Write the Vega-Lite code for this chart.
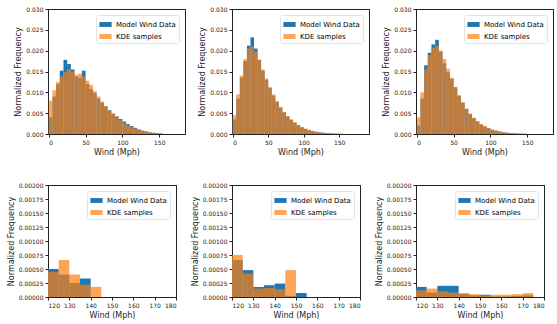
{
"$schema": "https://vega.github.io/schema/vega-lite/v6.json",
"padding": {"left": 6, "top": 5, "right": 0, "bottom": 2},
"config": {
  "font": "DejaVu Sans",
  "view": {"stroke": "#222", "strokeWidth": 1},
  "axis": {"grid": false, "labelFontSize": 6, "titleFontSize": 8, "titleFontWeight": "normal", "tickSize": 3, "tickColor": "#222", "domain": true, "domainColor": "#222", "domainWidth": 1, "labelColor": "#222", "titleColor": "#222", "titlePadding": 3, "labelPadding": 2},
  "legend": {"orient": "top-right", "labelFontSize": 7, "symbolType": "M-1,-0.4H1V0.4H-1Z", "symbolSize": 150, "symbolStrokeWidth": 0, "rowPadding": 2, "offset": 6, "padding": 3, "strokeColor": "#e4e4e4", "fillColor": "rgba(255,255,255,0.8)", "cornerRadius": 2, "labelOffset": 4}
},
"datasets": {
  "p1": [
    {"s":"Model Wind Data","x0":0,"x1":5,"f":0.004},{"s":"Model Wind Data","x0":5,"x1":10,"f":0.009},{"s":"Model Wind Data","x0":10,"x1":15,"f":0.012},{"s":"Model Wind Data","x0":15,"x1":20,"f":0.0152},{"s":"Model Wind Data","x0":20,"x1":25,"f":0.0178},{"s":"Model Wind Data","x0":25,"x1":30,"f":0.0168},{"s":"Model Wind Data","x0":30,"x1":35,"f":0.0155},{"s":"Model Wind Data","x0":35,"x1":40,"f":0.0138},{"s":"Model Wind Data","x0":40,"x1":45,"f":0.0135},{"s":"Model Wind Data","x0":45,"x1":50,"f":0.0152},{"s":"Model Wind Data","x0":50,"x1":55,"f":0.012},{"s":"Model Wind Data","x0":55,"x1":60,"f":0.0108},{"s":"Model Wind Data","x0":60,"x1":65,"f":0.0098},{"s":"Model Wind Data","x0":65,"x1":70,"f":0.0085},{"s":"Model Wind Data","x0":70,"x1":75,"f":0.0075},{"s":"Model Wind Data","x0":75,"x1":80,"f":0.0066},{"s":"Model Wind Data","x0":80,"x1":85,"f":0.0057},{"s":"Model Wind Data","x0":85,"x1":90,"f":0.0049},{"s":"Model Wind Data","x0":90,"x1":95,"f":0.0042},{"s":"Model Wind Data","x0":95,"x1":100,"f":0.0036},{"s":"Model Wind Data","x0":100,"x1":105,"f":0.003},{"s":"Model Wind Data","x0":105,"x1":110,"f":0.0024},{"s":"Model Wind Data","x0":110,"x1":115,"f":0.0019},{"s":"Model Wind Data","x0":115,"x1":120,"f":0.0015},{"s":"Model Wind Data","x0":120,"x1":125,"f":0.0011},{"s":"Model Wind Data","x0":125,"x1":130,"f":0.0008},{"s":"Model Wind Data","x0":130,"x1":135,"f":0.0006},{"s":"Model Wind Data","x0":135,"x1":140,"f":0.0004},{"s":"Model Wind Data","x0":140,"x1":145,"f":0.0003},{"s":"Model Wind Data","x0":145,"x1":150,"f":0.0002},{"s":"Model Wind Data","x0":150,"x1":155,"f":0.0001},
    {"s":"KDE samples","x0":0,"x1":5,"f":0.008},{"s":"KDE samples","x0":5,"x1":10,"f":0.0105},{"s":"KDE samples","x0":10,"x1":15,"f":0.0125},{"s":"KDE samples","x0":15,"x1":20,"f":0.0138},{"s":"KDE samples","x0":20,"x1":25,"f":0.0148},{"s":"KDE samples","x0":25,"x1":30,"f":0.0155},{"s":"KDE samples","x0":30,"x1":35,"f":0.015},{"s":"KDE samples","x0":35,"x1":40,"f":0.0142},{"s":"KDE samples","x0":40,"x1":45,"f":0.0145},{"s":"KDE samples","x0":45,"x1":50,"f":0.0138},{"s":"KDE samples","x0":50,"x1":55,"f":0.0128},{"s":"KDE samples","x0":55,"x1":60,"f":0.0118},{"s":"KDE samples","x0":60,"x1":65,"f":0.0103},{"s":"KDE samples","x0":65,"x1":70,"f":0.009},{"s":"KDE samples","x0":70,"x1":75,"f":0.0078},{"s":"KDE samples","x0":75,"x1":80,"f":0.0067},{"s":"KDE samples","x0":80,"x1":85,"f":0.0056},{"s":"KDE samples","x0":85,"x1":90,"f":0.0048},{"s":"KDE samples","x0":90,"x1":95,"f":0.004},{"s":"KDE samples","x0":95,"x1":100,"f":0.0033},{"s":"KDE samples","x0":100,"x1":105,"f":0.0027},{"s":"KDE samples","x0":105,"x1":110,"f":0.0022},{"s":"KDE samples","x0":110,"x1":115,"f":0.0017},{"s":"KDE samples","x0":115,"x1":120,"f":0.0013},{"s":"KDE samples","x0":120,"x1":125,"f":0.001},{"s":"KDE samples","x0":125,"x1":130,"f":0.0008},{"s":"KDE samples","x0":130,"x1":135,"f":0.0006},{"s":"KDE samples","x0":135,"x1":140,"f":0.0004},{"s":"KDE samples","x0":140,"x1":145,"f":0.0003},{"s":"KDE samples","x0":145,"x1":150,"f":0.0002},{"s":"KDE samples","x0":150,"x1":155,"f":0.0001}
  ],
  "p2": [
    {"s":"Model Wind Data","x0":0,"x1":5,"f":0.0035},{"s":"Model Wind Data","x0":5,"x1":10,"f":0.0085},{"s":"Model Wind Data","x0":10,"x1":15,"f":0.0135},{"s":"Model Wind Data","x0":15,"x1":20,"f":0.0175},{"s":"Model Wind Data","x0":20,"x1":25,"f":0.0212},{"s":"Model Wind Data","x0":25,"x1":30,"f":0.0232},{"s":"Model Wind Data","x0":30,"x1":35,"f":0.0205},{"s":"Model Wind Data","x0":35,"x1":40,"f":0.0178},{"s":"Model Wind Data","x0":40,"x1":45,"f":0.0152},{"s":"Model Wind Data","x0":45,"x1":50,"f":0.013},{"s":"Model Wind Data","x0":50,"x1":55,"f":0.011},{"s":"Model Wind Data","x0":55,"x1":60,"f":0.0092},{"s":"Model Wind Data","x0":60,"x1":65,"f":0.0077},{"s":"Model Wind Data","x0":65,"x1":70,"f":0.0063},{"s":"Model Wind Data","x0":70,"x1":75,"f":0.0052},{"s":"Model Wind Data","x0":75,"x1":80,"f":0.0042},{"s":"Model Wind Data","x0":80,"x1":85,"f":0.0034},{"s":"Model Wind Data","x0":85,"x1":90,"f":0.0027},{"s":"Model Wind Data","x0":90,"x1":95,"f":0.0021},{"s":"Model Wind Data","x0":95,"x1":100,"f":0.0016},{"s":"Model Wind Data","x0":100,"x1":105,"f":0.0012},{"s":"Model Wind Data","x0":105,"x1":110,"f":0.0009},{"s":"Model Wind Data","x0":110,"x1":115,"f":0.0007},{"s":"Model Wind Data","x0":115,"x1":120,"f":0.0005},{"s":"Model Wind Data","x0":120,"x1":125,"f":0.0004},{"s":"Model Wind Data","x0":125,"x1":130,"f":0.0003},{"s":"Model Wind Data","x0":130,"x1":135,"f":0.0002},{"s":"Model Wind Data","x0":135,"x1":140,"f":0.00015},{"s":"Model Wind Data","x0":140,"x1":145,"f":0.0001},{"s":"Model Wind Data","x0":145,"x1":150,"f":0.00008},{"s":"Model Wind Data","x0":150,"x1":155,"f":0.00005},
    {"s":"KDE samples","x0":0,"x1":5,"f":0.0045},{"s":"KDE samples","x0":5,"x1":10,"f":0.0095},{"s":"KDE samples","x0":10,"x1":15,"f":0.014},{"s":"KDE samples","x0":15,"x1":20,"f":0.018},{"s":"KDE samples","x0":20,"x1":25,"f":0.0205},{"s":"KDE samples","x0":25,"x1":30,"f":0.021},{"s":"KDE samples","x0":30,"x1":35,"f":0.0198},{"s":"KDE samples","x0":35,"x1":40,"f":0.0178},{"s":"KDE samples","x0":40,"x1":45,"f":0.0155},{"s":"KDE samples","x0":45,"x1":50,"f":0.0133},{"s":"KDE samples","x0":50,"x1":55,"f":0.0113},{"s":"KDE samples","x0":55,"x1":60,"f":0.0095},{"s":"KDE samples","x0":60,"x1":65,"f":0.0079},{"s":"KDE samples","x0":65,"x1":70,"f":0.0065},{"s":"KDE samples","x0":70,"x1":75,"f":0.0053},{"s":"KDE samples","x0":75,"x1":80,"f":0.0043},{"s":"KDE samples","x0":80,"x1":85,"f":0.0035},{"s":"KDE samples","x0":85,"x1":90,"f":0.0028},{"s":"KDE samples","x0":90,"x1":95,"f":0.0022},{"s":"KDE samples","x0":95,"x1":100,"f":0.0017},{"s":"KDE samples","x0":100,"x1":105,"f":0.0013},{"s":"KDE samples","x0":105,"x1":110,"f":0.001},{"s":"KDE samples","x0":110,"x1":115,"f":0.0008},{"s":"KDE samples","x0":115,"x1":120,"f":0.0006},{"s":"KDE samples","x0":120,"x1":125,"f":0.0004},{"s":"KDE samples","x0":125,"x1":130,"f":0.0003},{"s":"KDE samples","x0":130,"x1":135,"f":0.0002},{"s":"KDE samples","x0":135,"x1":140,"f":0.00015},{"s":"KDE samples","x0":140,"x1":145,"f":0.0001},{"s":"KDE samples","x0":145,"x1":150,"f":0.00007},{"s":"KDE samples","x0":150,"x1":155,"f":0.00005}
  ],
  "p3": [
    {"s":"Model Wind Data","x0":0,"x1":5,"f":0.002},{"s":"Model Wind Data","x0":5,"x1":10,"f":0.0085},{"s":"Model Wind Data","x0":10,"x1":15,"f":0.0165},{"s":"Model Wind Data","x0":15,"x1":20,"f":0.0195},{"s":"Model Wind Data","x0":20,"x1":25,"f":0.0215},{"s":"Model Wind Data","x0":25,"x1":30,"f":0.0226},{"s":"Model Wind Data","x0":30,"x1":35,"f":0.0198},{"s":"Model Wind Data","x0":35,"x1":40,"f":0.017},{"s":"Model Wind Data","x0":40,"x1":45,"f":0.0148},{"s":"Model Wind Data","x0":45,"x1":50,"f":0.0132},{"s":"Model Wind Data","x0":50,"x1":55,"f":0.0112},{"s":"Model Wind Data","x0":55,"x1":60,"f":0.0092},{"s":"Model Wind Data","x0":60,"x1":65,"f":0.0075},{"s":"Model Wind Data","x0":65,"x1":70,"f":0.006},{"s":"Model Wind Data","x0":70,"x1":75,"f":0.0048},{"s":"Model Wind Data","x0":75,"x1":80,"f":0.0038},{"s":"Model Wind Data","x0":80,"x1":85,"f":0.003},{"s":"Model Wind Data","x0":85,"x1":90,"f":0.0023},{"s":"Model Wind Data","x0":90,"x1":95,"f":0.0018},{"s":"Model Wind Data","x0":95,"x1":100,"f":0.0014},{"s":"Model Wind Data","x0":100,"x1":105,"f":0.001},{"s":"Model Wind Data","x0":105,"x1":110,"f":0.0008},{"s":"Model Wind Data","x0":110,"x1":115,"f":0.0006},{"s":"Model Wind Data","x0":115,"x1":120,"f":0.0004},{"s":"Model Wind Data","x0":120,"x1":125,"f":0.0003},{"s":"Model Wind Data","x0":125,"x1":130,"f":0.0002},{"s":"Model Wind Data","x0":130,"x1":135,"f":0.00015},{"s":"Model Wind Data","x0":135,"x1":140,"f":0.0001},{"s":"Model Wind Data","x0":140,"x1":145,"f":0.00007},{"s":"Model Wind Data","x0":145,"x1":150,"f":0.00005},
    {"s":"KDE samples","x0":0,"x1":5,"f":0.004},{"s":"KDE samples","x0":5,"x1":10,"f":0.01},{"s":"KDE samples","x0":10,"x1":15,"f":0.0155},{"s":"KDE samples","x0":15,"x1":20,"f":0.019},{"s":"KDE samples","x0":20,"x1":25,"f":0.0207},{"s":"KDE samples","x0":25,"x1":30,"f":0.0212},{"s":"KDE samples","x0":30,"x1":35,"f":0.02},{"s":"KDE samples","x0":35,"x1":40,"f":0.018},{"s":"KDE samples","x0":40,"x1":45,"f":0.0157},{"s":"KDE samples","x0":45,"x1":50,"f":0.0135},{"s":"KDE samples","x0":50,"x1":55,"f":0.0113},{"s":"KDE samples","x0":55,"x1":60,"f":0.0093},{"s":"KDE samples","x0":60,"x1":65,"f":0.0076},{"s":"KDE samples","x0":65,"x1":70,"f":0.0061},{"s":"KDE samples","x0":70,"x1":75,"f":0.0049},{"s":"KDE samples","x0":75,"x1":80,"f":0.0039},{"s":"KDE samples","x0":80,"x1":85,"f":0.0031},{"s":"KDE samples","x0":85,"x1":90,"f":0.0024},{"s":"KDE samples","x0":90,"x1":95,"f":0.0019},{"s":"KDE samples","x0":95,"x1":100,"f":0.0014},{"s":"KDE samples","x0":100,"x1":105,"f":0.0011},{"s":"KDE samples","x0":105,"x1":110,"f":0.0008},{"s":"KDE samples","x0":110,"x1":115,"f":0.0006},{"s":"KDE samples","x0":115,"x1":120,"f":0.0004},{"s":"KDE samples","x0":120,"x1":125,"f":0.0003},{"s":"KDE samples","x0":125,"x1":130,"f":0.0002},{"s":"KDE samples","x0":130,"x1":135,"f":0.00015},{"s":"KDE samples","x0":135,"x1":140,"f":0.0001},{"s":"KDE samples","x0":140,"x1":145,"f":0.00007},{"s":"KDE samples","x0":145,"x1":150,"f":0.00005}
  ],
  "p4": [
    {"s":"Model Wind Data","x0":120,"x1":125,"f":0.0005},{"s":"Model Wind Data","x0":125,"x1":130,"f":0.0004},{"s":"Model Wind Data","x0":130,"x1":135,"f":0.00025},{"s":"Model Wind Data","x0":135,"x1":140,"f":0.00033},
    {"s":"KDE samples","x0":120,"x1":125,"f":0.00045},{"s":"KDE samples","x0":125,"x1":130,"f":0.00066},{"s":"KDE samples","x0":130,"x1":135,"f":0.0004},{"s":"KDE samples","x0":135,"x1":140,"f":0.00022},{"s":"KDE samples","x0":140,"x1":145,"f":0.00018}
  ],
  "p5": [
    {"s":"Model Wind Data","x0":120,"x1":125,"f":0.00066},{"s":"Model Wind Data","x0":125,"x1":130,"f":0.00048},{"s":"Model Wind Data","x0":130,"x1":135,"f":0.00018},{"s":"Model Wind Data","x0":135,"x1":140,"f":0.00021},{"s":"Model Wind Data","x0":140,"x1":145,"f":0.00024},{"s":"Model Wind Data","x0":145,"x1":150,"f":0.00002},{"s":"Model Wind Data","x0":150,"x1":155,"f":0.00007},
    {"s":"KDE samples","x0":120,"x1":125,"f":0.00075},{"s":"KDE samples","x0":125,"x1":130,"f":0.00042},{"s":"KDE samples","x0":130,"x1":135,"f":0.00015},{"s":"KDE samples","x0":135,"x1":140,"f":0.00016},{"s":"KDE samples","x0":140,"x1":145,"f":0.00014},{"s":"KDE samples","x0":145,"x1":150,"f":0.00048}
  ],
  "p6": [
    {"s":"Model Wind Data","x0":120,"x1":125,"f":0.00018},{"s":"Model Wind Data","x0":125,"x1":130,"f":0.00008},{"s":"Model Wind Data","x0":130,"x1":135,"f":0.0002},{"s":"Model Wind Data","x0":135,"x1":140,"f":0.0002},{"s":"Model Wind Data","x0":140,"x1":145,"f":0.00006},{"s":"Model Wind Data","x0":145,"x1":150,"f":0.00003},{"s":"Model Wind Data","x0":150,"x1":155,"f":0.00004},{"s":"Model Wind Data","x0":155,"x1":160,"f":0.00001},{"s":"Model Wind Data","x0":160,"x1":165,"f":0.00001},{"s":"Model Wind Data","x0":165,"x1":170,"f":0.00002},{"s":"Model Wind Data","x0":170,"x1":175,"f":0.00003},
    {"s":"KDE samples","x0":120,"x1":125,"f":0.00012},{"s":"KDE samples","x0":125,"x1":130,"f":0.00015},{"s":"KDE samples","x0":130,"x1":135,"f":0.0001},{"s":"KDE samples","x0":135,"x1":140,"f":0.00008},{"s":"KDE samples","x0":140,"x1":145,"f":0.00006},{"s":"KDE samples","x0":145,"x1":150,"f":0.00005},{"s":"KDE samples","x0":150,"x1":155,"f":0.00003},{"s":"KDE samples","x0":155,"x1":160,"f":0.00004},{"s":"KDE samples","x0":160,"x1":165,"f":0.00004},{"s":"KDE samples","x0":165,"x1":170,"f":0.00005},{"s":"KDE samples","x0":170,"x1":175,"f":0.00007}
  ]
},
"columns": 3,
"spacing": {"row": 24, "column": 4},
"resolve": {"scale": {"color": "independent", "opacity": "independent", "x": "independent", "y": "independent"}},
"concat": [
  {"width": 137, "height": 125, "data": {"name": "p1"},
   "resolve": {"axis": {"x": "independent", "y": "independent"}},
   "layer": [
    {"mark": "rect",
     "encoding": {
       "x": {"field": "x0", "type": "quantitative", "scale": {"domain": [-1, 185], "nice": false, "zero": false}, "axis": {"values": [0, 50, 100, 150], "title": "Wind (Mph)"}},
       "x2": {"field": "x1"},
       "y": {"field": "f", "type": "quantitative", "scale": {"domain": [0, 0.03], "nice": false}, "axis": {"values": [0, 0.005, 0.01, 0.015, 0.02, 0.025, 0.03], "format": ".3f", "title": "Normalized Frequency"}},
       "y2": {"datum": 0},
       "color": {"field": "s", "type": "nominal", "scale": {"domain": ["Model Wind Data", "KDE samples"], "range": ["#1f77b4", "#ff7f0e"]}, "legend": {"title": null}},
       "opacity": {"field": "s", "type": "nominal", "scale": {"domain": ["Model Wind Data", "KDE samples"], "range": [1, 0.7]}, "legend": {"title": null}}
     }},
    {"mark": {"type": "rect", "opacity": 0},
     "encoding": {
       "x": {"field": "x0", "type": "quantitative", "scale": {"domain": [-1, 185], "nice": false, "zero": false}, "axis": {"orient": "top", "labels": false, "ticks": false, "title": null, "domain": true, "domainColor": "#222", "domainWidth": 1}},
       "x2": {"field": "x1"},
       "y": {"field": "f", "type": "quantitative", "scale": {"domain": [0, 0.03], "nice": false}, "axis": {"orient": "right", "labels": false, "ticks": false, "title": null, "domain": true, "domainColor": "#222", "domainWidth": 1}},
       "y2": {"datum": 0}
     }}
   ]},
  {"width": 137, "height": 125, "data": {"name": "p2"},
   "resolve": {"axis": {"x": "independent", "y": "independent"}},
   "layer": [
    {"mark": "rect",
     "encoding": {
       "x": {"field": "x0", "type": "quantitative", "scale": {"domain": [-1, 192], "nice": false, "zero": false}, "axis": {"values": [0, 50, 100, 150], "title": "Wind (Mph)"}},
       "x2": {"field": "x1"},
       "y": {"field": "f", "type": "quantitative", "scale": {"domain": [0, 0.03], "nice": false}, "axis": {"values": [0, 0.005, 0.01, 0.015, 0.02, 0.025, 0.03], "format": ".3f", "title": "Normalized Frequency"}},
       "y2": {"datum": 0},
       "color": {"field": "s", "type": "nominal", "scale": {"domain": ["Model Wind Data", "KDE samples"], "range": ["#1f77b4", "#ff7f0e"]}, "legend": {"title": null}},
       "opacity": {"field": "s", "type": "nominal", "scale": {"domain": ["Model Wind Data", "KDE samples"], "range": [1, 0.7]}, "legend": {"title": null}}
     }},
    {"mark": {"type": "rect", "opacity": 0},
     "encoding": {
       "x": {"field": "x0", "type": "quantitative", "scale": {"domain": [-1, 192], "nice": false, "zero": false}, "axis": {"orient": "top", "labels": false, "ticks": false, "title": null, "domain": true, "domainColor": "#222", "domainWidth": 1}},
       "x2": {"field": "x1"},
       "y": {"field": "f", "type": "quantitative", "scale": {"domain": [0, 0.03], "nice": false}, "axis": {"orient": "right", "labels": false, "ticks": false, "title": null, "domain": true, "domainColor": "#222", "domainWidth": 1}},
       "y2": {"datum": 0}
     }}
   ]},
  {"width": 137, "height": 125, "data": {"name": "p3"},
   "resolve": {"axis": {"x": "independent", "y": "independent"}},
   "layer": [
    {"mark": "rect",
     "encoding": {
       "x": {"field": "x0", "type": "quantitative", "scale": {"domain": [-1, 185], "nice": false, "zero": false}, "axis": {"values": [0, 50, 100, 150], "title": "Wind (Mph)"}},
       "x2": {"field": "x1"},
       "y": {"field": "f", "type": "quantitative", "scale": {"domain": [0, 0.03], "nice": false}, "axis": {"values": [0, 0.005, 0.01, 0.015, 0.02, 0.025, 0.03], "format": ".3f", "title": "Normalized Frequency"}},
       "y2": {"datum": 0},
       "color": {"field": "s", "type": "nominal", "scale": {"domain": ["Model Wind Data", "KDE samples"], "range": ["#1f77b4", "#ff7f0e"]}, "legend": {"title": null}},
       "opacity": {"field": "s", "type": "nominal", "scale": {"domain": ["Model Wind Data", "KDE samples"], "range": [1, 0.7]}, "legend": {"title": null}}
     }},
    {"mark": {"type": "rect", "opacity": 0},
     "encoding": {
       "x": {"field": "x0", "type": "quantitative", "scale": {"domain": [-1, 185], "nice": false, "zero": false}, "axis": {"orient": "top", "labels": false, "ticks": false, "title": null, "domain": true, "domainColor": "#222", "domainWidth": 1}},
       "x2": {"field": "x1"},
       "y": {"field": "f", "type": "quantitative", "scale": {"domain": [0, 0.03], "nice": false}, "axis": {"orient": "right", "labels": false, "ticks": false, "title": null, "domain": true, "domainColor": "#222", "domainWidth": 1}},
       "y2": {"datum": 0}
     }}
   ]},
  {"width": 128, "height": 112, "data": {"name": "p4"},
   "resolve": {"axis": {"x": "independent", "y": "independent"}},
   "layer": [
    {"mark": "rect",
     "encoding": {
       "x": {"field": "x0", "type": "quantitative", "scale": {"domain": [120, 180], "nice": false, "zero": false}, "axis": {"values": [120, 130, 140, 150, 160, 170, 180], "title": "Wind (Mph)"}},
       "x2": {"field": "x1"},
       "y": {"field": "f", "type": "quantitative", "scale": {"domain": [0, 0.002], "nice": false}, "axis": {"values": [0, 0.00025, 0.0005, 0.00075, 0.001, 0.00125, 0.0015, 0.00175, 0.002], "format": ".5f", "title": "Normalized Frequency"}},
       "y2": {"datum": 0},
       "color": {"field": "s", "type": "nominal", "scale": {"domain": ["Model Wind Data", "KDE samples"], "range": ["#1f77b4", "#ff7f0e"]}, "legend": {"title": null}},
       "opacity": {"field": "s", "type": "nominal", "scale": {"domain": ["Model Wind Data", "KDE samples"], "range": [1, 0.7]}, "legend": {"title": null}}
     }},
    {"mark": {"type": "rect", "opacity": 0},
     "encoding": {
       "x": {"field": "x0", "type": "quantitative", "scale": {"domain": [120, 180], "nice": false, "zero": false}, "axis": {"orient": "top", "labels": false, "ticks": false, "title": null, "domain": true, "domainColor": "#222", "domainWidth": 1}},
       "x2": {"field": "x1"},
       "y": {"field": "f", "type": "quantitative", "scale": {"domain": [0, 0.002], "nice": false}, "axis": {"orient": "right", "labels": false, "ticks": false, "title": null, "domain": true, "domainColor": "#222", "domainWidth": 1}},
       "y2": {"datum": 0}
     }}
   ]},
  {"width": 128, "height": 112, "data": {"name": "p5"},
   "resolve": {"axis": {"x": "independent", "y": "independent"}},
   "layer": [
    {"mark": "rect",
     "encoding": {
       "x": {"field": "x0", "type": "quantitative", "scale": {"domain": [120, 180], "nice": false, "zero": false}, "axis": {"values": [120, 130, 140, 150, 160, 170, 180], "title": "Wind (Mph)"}},
       "x2": {"field": "x1"},
       "y": {"field": "f", "type": "quantitative", "scale": {"domain": [0, 0.002], "nice": false}, "axis": {"values": [0, 0.00025, 0.0005, 0.00075, 0.001, 0.00125, 0.0015, 0.00175, 0.002], "format": ".5f", "title": "Normalized Frequency"}},
       "y2": {"datum": 0},
       "color": {"field": "s", "type": "nominal", "scale": {"domain": ["Model Wind Data", "KDE samples"], "range": ["#1f77b4", "#ff7f0e"]}, "legend": {"title": null}},
       "opacity": {"field": "s", "type": "nominal", "scale": {"domain": ["Model Wind Data", "KDE samples"], "range": [1, 0.7]}, "legend": {"title": null}}
     }},
    {"mark": {"type": "rect", "opacity": 0},
     "encoding": {
       "x": {"field": "x0", "type": "quantitative", "scale": {"domain": [120, 180], "nice": false, "zero": false}, "axis": {"orient": "top", "labels": false, "ticks": false, "title": null, "domain": true, "domainColor": "#222", "domainWidth": 1}},
       "x2": {"field": "x1"},
       "y": {"field": "f", "type": "quantitative", "scale": {"domain": [0, 0.002], "nice": false}, "axis": {"orient": "right", "labels": false, "ticks": false, "title": null, "domain": true, "domainColor": "#222", "domainWidth": 1}},
       "y2": {"datum": 0}
     }}
   ]},
  {"width": 128, "height": 112, "data": {"name": "p6"},
   "resolve": {"axis": {"x": "independent", "y": "independent"}},
   "layer": [
    {"mark": "rect",
     "encoding": {
       "x": {"field": "x0", "type": "quantitative", "scale": {"domain": [120, 180], "nice": false, "zero": false}, "axis": {"values": [120, 130, 140, 150, 160, 170, 180], "title": "Wind (Mph)"}},
       "x2": {"field": "x1"},
       "y": {"field": "f", "type": "quantitative", "scale": {"domain": [0, 0.002], "nice": false}, "axis": {"values": [0, 0.00025, 0.0005, 0.00075, 0.001, 0.00125, 0.0015, 0.00175, 0.002], "format": ".5f", "title": "Normalized Frequency"}},
       "y2": {"datum": 0},
       "color": {"field": "s", "type": "nominal", "scale": {"domain": ["Model Wind Data", "KDE samples"], "range": ["#1f77b4", "#ff7f0e"]}, "legend": {"title": null}},
       "opacity": {"field": "s", "type": "nominal", "scale": {"domain": ["Model Wind Data", "KDE samples"], "range": [1, 0.7]}, "legend": {"title": null}}
     }},
    {"mark": {"type": "rect", "opacity": 0},
     "encoding": {
       "x": {"field": "x0", "type": "quantitative", "scale": {"domain": [120, 180], "nice": false, "zero": false}, "axis": {"orient": "top", "labels": false, "ticks": false, "title": null, "domain": true, "domainColor": "#222", "domainWidth": 1}},
       "x2": {"field": "x1"},
       "y": {"field": "f", "type": "quantitative", "scale": {"domain": [0, 0.002], "nice": false}, "axis": {"orient": "right", "labels": false, "ticks": false, "title": null, "domain": true, "domainColor": "#222", "domainWidth": 1}},
       "y2": {"datum": 0}
     }}
   ]}
]
}
